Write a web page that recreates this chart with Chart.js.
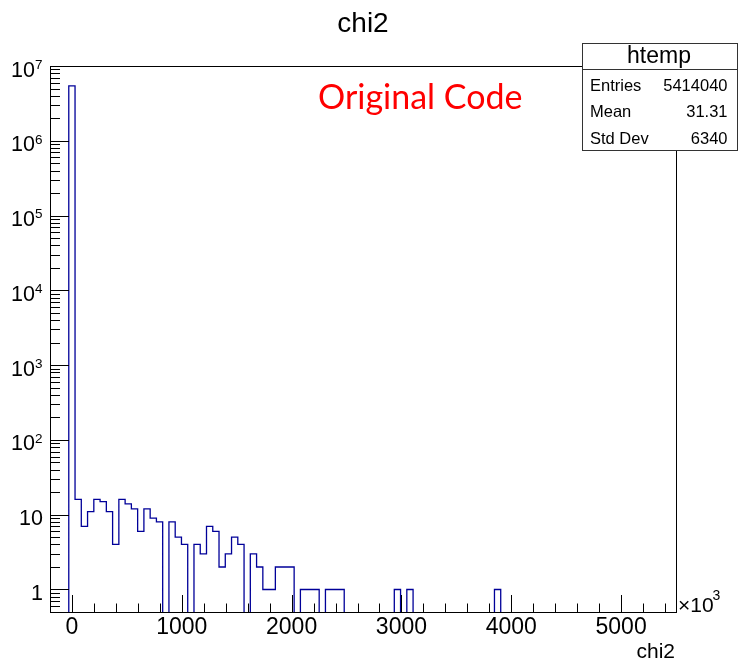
<!DOCTYPE html>
<html>
<head>
<meta charset="utf-8">
<script src="https://cdn.jsdelivr.net/npm/chart.js@4.4.1/dist/chart.umd.min.js"></script>
<style>
  html, body { margin: 0; padding: 0; background: #fff; }
</style>
</head>
<body>
<canvas id="chart1" width="738" height="662"></canvas>
<script>
// htemp : chi2 (x in units of 10^3), 100 equal bins from binLow to binHigh
var binLow = -200;
var binHigh = 5500;
var binCounts = [
    0, 0, 0, 5413700, 16, 7, 11, 16, 15, 11,
    4, 16, 14, 12, 6, 12, 9, 8, 0, 8,
    5, 4, 0, 4, 3, 7, 6, 2, 3, 5,
    4, 0, 3, 2, 1, 1, 2, 2, 2, 0,
    1, 1, 1, 0, 1, 1, 1, 0, 0, 0,
    0, 0, 0, 0, 0, 1, 0, 1, 0, 0,
    0, 0, 0, 0, 0, 0, 0, 0, 0, 0,
    0, 1, 0, 0, 0, 0, 0, 0, 0, 0,
    0, 0, 0, 0, 0, 0, 0, 0, 0, 0,
    0, 0, 0, 0, 0, 0, 0, 0, 0, 0
];
var xTickValues = [0, 1000, 2000, 3000, 4000, 5000];
var xMinorStep = 200;
var yDecades = [0, 1, 2, 3, 4, 5, 6, 7];
var yMin = 0.5;
var yMax = 1e7;
var zeroFloor = 0.1;   // empty bins drop below the axis (log scale)
var statsTitle = 'htemp';
var statsNames = ['Entries', 'Mean', 'Std Dev'];
var statsValues = ['5414040', '31.31', '6340'];

function buildOutline(counts) {
    var w = (binHigh - binLow) / counts.length;
    var pts = [];
    for (var i = 0; i < counts.length; i++) {
        pts.push({x: binLow + i * w, y: counts[i] > 0 ? counts[i] : zeroFloor});
    }
    pts.push({x: binHigh, y: zeroFloor});
    return pts;
}

var FONT = '"Liberation Sans", Arial, Helvetica, sans-serif';

function txt(ctx, s, x, y, size, align, color, family) {
    ctx.font = size + 'px ' + (family || FONT);
    ctx.textAlign = align;
    ctx.textBaseline = 'alphabetic';
    ctx.fillStyle = color || '#000';
    ctx.fillText(s, x, y);
}

var rootFrame = {
    id: 'rootFrame',
    afterDraw: function(chart) {
        var ctx = chart.ctx;
        var a = chart.chartArea;
        var xs = chart.scales.x, ys = chart.scales.y;
        ctx.save();
        ctx.strokeStyle = '#000';
        ctx.lineWidth = 1;

        // frame
        ctx.strokeRect(a.left + 0.5, a.top + 0.5, a.right - a.left, a.bottom - a.top);

        // x ticks, inside
        ctx.beginPath();
        for (var v = binLow; v < binHigh; v += xMinorStep) {
            var px = Math.round(xs.getPixelForValue(v)) + 0.5;
            var len = (v % 1000 === 0) ? 17 : 8.5;
            ctx.moveTo(px, a.bottom);
            ctx.lineTo(px, a.bottom - len);
        }
        // y ticks, inside
        for (var k = -1; k < 7; k++) {
            for (var m = 1; m < 10; m++) {
                var val = m * Math.pow(10, k);
                if (val < yMin || val > yMax) continue;
                var py = Math.round(ys.getPixelForValue(val)) + 0.5;
                var l = (m === 1) ? 19 : 10;
                ctx.moveTo(a.left, py);
                ctx.lineTo(a.left + l, py);
            }
        }
        ctx.stroke();

        // x labels
        xTickValues.forEach(function(v) {
            txt(ctx, String(v), xs.getPixelForValue(v), 634, 23, 'center');
        });
        // y labels
        yDecades.forEach(function(d) {
            var py = ys.getPixelForValue(Math.pow(10, d));
            if (d === 0) {
                txt(ctx, '1', 43, py + 10.5, 21.5, 'right');
            } else if (d === 1) {
                txt(ctx, '10', 43, py + 10.5, 21.5, 'right');
            } else {
                txt(ctx, '10', 35, py + 10.5, 21.5, 'right');
                txt(ctx, String(d), 35, py + 2.8, 13.5, 'left');
            }
        });

        // exponent of x axis
        txt(ctx, '\u00d710', 678, 612, 21, 'left');
        txt(ctx, '3', 712.5, 600, 14, 'left');

        // axis title and histogram title
        txt(ctx, 'chi2', 675, 658, 21, 'right');
        txt(ctx, 'chi2', 363, 32, 28, 'center');

        // stats box
        ctx.fillStyle = '#fff';
        ctx.fillRect(582, 43, 156, 108);
        ctx.strokeStyle = '#333';
        ctx.strokeRect(582.5, 43.5, 155, 107);
        ctx.beginPath();
        ctx.moveTo(582, 69.5);
        ctx.lineTo(738, 69.5);
        ctx.stroke();
        txt(ctx, statsTitle, 659, 63, 23, 'center');
        for (var i = 0; i < statsNames.length; i++) {
            txt(ctx, statsNames[i], 590, 90.5 + i * 26.7, 16.5, 'left');
            txt(ctx, statsValues[i], 727.5, 90.5 + i * 26.7, 16.5, 'right');
        }

        // slide annotation
        txt(ctx, 'Original Code', 318, 108.5, 34, 'left', '#ff0000', 'Lato, "Open Sans", sans-serif');
        ctx.restore();
    }
};

var ctx = document.getElementById('chart1').getContext('2d');
var chartObj = new Chart(ctx, {
    type: 'line',
    data: {
        datasets: [{
            label: 'htemp',
            data: buildOutline(binCounts),
            stepped: 'before',
            borderColor: '#000099',
            borderWidth: 1.3,
            pointRadius: 0,
            fill: false,
        }]
    },
    options: {
        responsive: false,
        animation: false,
        layout: {
            padding: {left: 50, top: 66, right: 62, bottom: 50}
        },
        scales: {
            x: {
                type: 'linear',
                min: binLow,
                max: binHigh,
                bounds: 'data',
                display: false,
            },
            y: {
                type: 'logarithmic',
                min: yMin,
                max: yMax,
                bounds: 'data',
                display: false,
            },
        },
        plugins: {
            legend: {display: false},
            tooltip: {enabled: false},
        },
    },
    plugins: [rootFrame],
});
</script>
</body>
</html>
